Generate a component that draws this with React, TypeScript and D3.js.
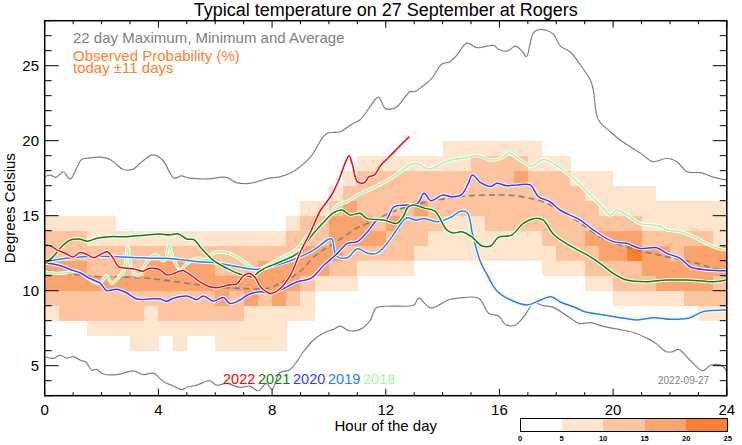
import React from "react";
import * as d3 from "d3";

type Pt = [number, number];

// ---------- axis / legend data ----------
const hourMajor = [0, 4, 8, 12, 16, 20, 24];
const hourMinor = d3.range(0, 25, 1);
const tempMajor = [5, 10, 15, 20, 25];
const tempMinor = d3.range(3, 29, 1);
const colorbarTicks = [0, 5, 10, 15, 20, 25];
const levelColors = ["#ffffff", "#fee6ce", "#fdc59f", "#fca46e", "#fd8030"];
const years = ["2022", "2021", "2020", "2019", "2018"];
const yearColors = ["#ff0000", "#0a820a", "#3a3aff", "#1e80ff", "#a8f5a8"];

// ---------- probability grid (half-hour columns, 1 degree rows) ----------
const lightLo = [8,8,8,7,7,7,6,6,7,6,7,7, 6,6,6,6,6,8,8,10,10,10,11,11, 11,11,12,12,12,12,12,12,12,12,12,11, 11,11,10,10,9,9,9,9,9,9,8,8];
const lightHi = [15,15,15,15,15,14,14,14,14,14,14,14, 14,14,14,14,14,15,16,16,17,18,19,19, 19,19,19,19,20,20,20,20,20,20,20,19, 19,18,18,18,17,17,17,16,16,16,16,16];
const medLo = [9,8,8,8,8,8,8,9,8,8,8,8, 8,8,9,9,9,9,10,11,11,11,12,12, 12,12,13,14,15,15,15,14,14,14,14,13, 12,12,11,11,10,10,10,10,10,9,9,9];
const medHi = [14,14,14,13,13,13,13,13,13,13,13,13, 13,13,13,13,13,14,15,15,16,17,18,18, 18,18,18,18,18,18,19,19,19,19,18,18, 18,17,16,15,15,15,14,14,14,14,14,13];
const l3Lo = [10,10,10,10,10,10,10,10,10,10,10,10, 9,10,9,10,9,10,11,11,12,13,13,13, 14,0,15,0,0,0,0,0,0,17,0,0, 0,0,13,12,12,13,11,10,10,10,10,11];
const l3Hi = [12,12,12,11,11,11,11,12,12,12,12,12, 11,11,11,12,12,12,13,13,15,16,15,14, 15,0,16,0,0,0,0,0,0,18,0,0, 0,0,14,14,14,14,13,13,12,13,13,13];
const l4Cells: Pt[] = [[41, 12]];

// ---------- series ----------
const maxTemp: Pt[] = [[0,17.6],[0.2,17.7],[0.4,17.55],[0.65,17.93],[0.9,17.45],[1.3,18.75],[1.6,18.85],[1.9,18.9],[2.3,18.75],[2.75,18.1],[3.1,18.1],[3.45,18.65],[3.8,19.05],[4.15,18.7],[4.55,17.5],[4.8,17.65],[5.1,17.5],[5.7,17.45],[6.4,17.55],[6.75,17.2],[7.2,17.15],[7.9,17.5],[8.3,17.6],[8.75,17.95],[9.35,18.9],[9.9,20.45],[10.4,20.6],[10.8,21.1],[11.1,21.4],[11.45,22.27],[11.74,22.9],[11.98,22.15],[12.16,22.1],[12.4,22.27],[12.86,23.27],[13.03,23.27],[13.27,23.6],[13.62,24.16],[13.97,25.1],[14.26,25.27],[14.5,25.7],[14.85,26.5],[15.2,26.2],[15.56,26.3],[15.8,26.35],[15.97,26.1],[16.27,25.97],[16.56,26.3],[16.8,25.96],[16.95,25.6],[17.2,27.2],[17.44,27.42],[17.68,27.33],[17.9,27.1],[18.15,26.3],[18.5,25.9],[18.85,25.05],[19.2,24.05],[19.3,23.4],[19.48,21.4],[19.9,20.6],[20.25,20.05],[20.6,19.6],[21.05,19.05],[21.4,18.6],[21.9,18.83],[22.25,18.6],[22.6,17.93],[23.08,17.87],[23.55,17.56],[24,17.38]];
const minTemp: Pt[] = [[0,5.6],[0.3,5.49],[0.54,5.71],[0.77,5.5],[1.0,5.6],[1.24,5.38],[1.47,5.2],[1.65,4.7],[1.83,4.75],[2.06,4.45],[2.53,4.4],[3.12,4.65],[3.47,4.4],[3.82,4.5],[4.17,3.95],[4.52,3.65],[4.82,3.4],[5.0,3.56],[5.35,3.7],[5.8,4.0],[6.05,3.7],[6.4,3.82],[6.87,3.56],[7.22,3.64],[7.51,3.33],[7.8,3.82],[8.0,3.42],[8.28,4.55],[8.6,4.7],[8.87,5.27],[9.1,5.93],[9.45,6.7],[9.8,7.16],[10.15,7.42],[10.4,7.64],[10.7,7.33],[11.1,7.42],[11.45,8.0],[11.66,8.85],[12.2,8.97],[13.0,9.05],[13.15,9.5],[13.6,8.85],[14.2,9.38],[14.56,9.5],[15.27,9.5],[15.62,8.5],[15.98,8.3],[16.2,7.76],[16.56,7.7],[16.9,8.38],[17.2,9.16],[17.56,9.0],[17.9,8.89],[18.5,8.16],[18.8,7.82],[19.2,7.87],[19.7,7.6],[20.2,7.42],[20.75,7.2],[21.2,6.82],[21.5,6.49],[21.87,5.93],[22.1,5.93],[22.3,6.09],[22.7,5.38],[23.15,4.67],[23.4,5.0],[23.65,5.09],[23.85,4.98],[24,4.6]];
const avgTemp: Pt[] = [[0,11.38],[1,11.1],[2,10.93],[3,10.9],[3.5,10.85],[4,10.75],[5,10.5],[5.5,10.35],[6,10.25],[7,10.15],[7.8,10.15],[8.4,10.6],[9,11.3],[9.5,12.3],[10,12.95],[10.5,13.55],[11,14.2],[11.5,14.6],[12.15,15.2],[12.5,15.45],[12.9,15.65],[13.5,15.95],[14,16.1],[14.75,16.3],[15.5,16.38],[16,16.38],[16.5,16.35],[17.1,16.15],[17.6,15.9],[18,15.5],[18.5,14.95],[19,14.3],[19.5,13.65],[20,13.2],[20.6,12.85],[21.2,12.55],[21.8,12.3],[22.3,12.1],[22.9,11.85],[23.5,11.5],[24,11.4]];
const y2022: Pt[] = [[0,13.05],[0.2,13.0],[0.45,12.7],[0.77,12.45],[1.0,12.25],[1.24,12.55],[1.45,12.45],[1.72,12.2],[1.95,12.4],[2.2,12.6],[2.4,12.2],[2.6,11.6],[2.9,11.5],[3.15,11.45],[3.45,11.3],[3.7,11.5],[4.05,11.4],[4.3,11.05],[4.55,11.15],[4.85,11.35],[5.2,10.95],[5.5,10.55],[5.75,10.3],[6.05,10.2],[6.45,10.38],[6.75,10.45],[7.0,11.0],[7.2,11.15],[7.4,10.9],[7.6,10.25],[7.95,9.82],[8.3,10.16],[8.65,11.05],[9.0,12.6],[9.36,13.93],[9.71,15.38],[10.06,16.27],[10.35,17.38],[10.59,18.6],[10.71,19.0],[10.83,18.38],[11.0,17.27],[11.24,17.2],[11.41,17.6],[11.59,17.7],[11.83,18.38],[12.0,18.7],[12.3,19.27],[12.53,19.71],[12.83,20.27]];
const y2021: Pt[] = [[0,11.8],[0.3,12.27],[0.6,12.95],[0.9,13.38],[1.2,13.45],[1.5,13.3],[1.85,13.5],[2.3,13.6],[2.9,13.6],[3.5,13.7],[4.05,13.78],[4.4,13.71],[4.68,13.8],[5.0,13.45],[5.25,13.4],[5.5,12.85],[5.95,12.0],[6.4,11.5],[6.87,11.1],[7.1,11.0],[7.32,10.93],[7.5,11.2],[7.73,11.49],[8.3,11.93],[8.89,12.49],[9.36,13.6],[9.83,14.6],[10.18,15.22],[10.47,15.38],[10.74,15.05],[11.1,15.16],[11.33,14.82],[11.92,14.71],[12.39,14.49],[12.6,14.9],[12.8,15.6],[12.99,15.71],[13.38,15.49],[13.73,15.3],[14.15,14.05],[14.38,13.85],[14.67,13.93],[15.02,13.6],[15.37,13.0],[15.7,13.0],[15.96,13.56],[16.43,13.71],[16.84,14.49],[17.25,14.82],[17.54,14.71],[17.91,13.75],[18.48,13.0],[19.07,12.4],[19.54,11.82],[20.0,11.16],[20.48,10.71],[21.18,10.6],[21.89,10.71],[22.59,10.71],[23.53,10.6],[24,10.71]];
const y2020: Pt[] = [[0,11.85],[0.5,11.7],[0.92,11.4],[1.24,11.2],[1.55,10.85],[1.95,10.5],[2.18,10.0],[2.53,10.1],[2.89,9.85],[3.24,9.45],[3.71,9.45],[4.07,9.45],[4.29,9.3],[4.53,9.5],[5.0,9.65],[5.35,9.4],[5.58,9.65],[5.93,9.3],[6.29,9.55],[6.52,9.15],[6.87,9.38],[7.14,9.71],[7.6,9.93],[7.95,9.82],[8.3,10.05],[8.89,10.6],[9.36,10.82],[9.83,11.71],[10.3,12.49],[10.65,13.16],[11.0,13.27],[11.36,13.93],[11.71,14.71],[12.0,14.71],[12.3,15.6],[12.77,15.71],[13.12,15.82],[13.35,16.49],[13.59,16.0],[14.0,16.38],[14.3,16.27],[14.65,16.38],[14.88,17.05],[15.05,17.71],[15.34,17.2],[15.7,16.95],[15.9,17.16],[16.26,17.0],[16.65,17.05],[17.08,17.05],[17.37,16.27],[17.78,15.93],[18.13,15.38],[18.84,14.71],[19.3,14.05],[20.0,13.27],[20.48,13.16],[20.95,12.82],[21.53,12.87],[21.89,12.49],[22.36,12.16],[22.71,11.6],[23.3,11.38],[24,11.33]];
const y2019: Pt[] = [[0,11.93],[0.77,12.16],[1.36,12.27],[1.95,12.3],[2.53,12.27],[3.12,12.22],[3.71,12.16],[4.29,12.16],[4.88,12.05],[5.46,11.93],[6.05,11.85],[6.64,11.65],[7.22,11.45],[7.6,11.45],[7.95,11.6],[8.54,11.93],[9.0,12.27],[9.36,12.6],[9.71,13.05],[9.95,13.4],[10.1,13.45],[10.27,12.3],[10.65,12.2],[11.0,12.8],[11.36,12.5],[11.68,12.49],[12.03,13.1],[12.38,14.05],[12.73,14.85],[13.08,14.7],[13.35,14.82],[13.81,14.6],[14.29,14.9],[14.64,15.3],[14.87,15.2],[15.05,13.8],[15.32,12.0],[15.57,11.05],[15.93,9.95],[16.4,9.38],[16.98,9.05],[17.45,9.38],[17.8,9.6],[18.2,9.2],[18.6,8.93],[19.0,8.6],[19.6,8.4],[20.4,8.16],[20.85,8.05],[21.45,8.2],[22.04,8.09],[22.7,8.2],[23.15,8.6],[24,8.71]];
const y2018: Pt[] = [[0,11.27],[0.42,11.16],[0.77,11.2],[1.13,11.3],[1.48,10.9],[1.71,10.6],[1.95,10.5],[2.18,11.0],[2.36,10.5],[2.65,11.0],[2.8,11.4],[2.92,12.9],[3.05,11.5],[3.3,11.0],[3.59,11.9],[3.9,12.4],[4.15,12.0],[4.25,12.1],[4.37,13.05],[4.5,12.3],[4.76,11.4],[5.0,11.8],[5.35,12.16],[5.7,12.1],[5.93,12.49],[6.17,12.6],[6.64,12.38],[7.0,11.95],[7.3,11.5],[7.45,11.38],[7.73,11.6],[8.3,12.16],[8.89,12.82],[9.36,13.93],[9.83,14.6],[10.3,15.71],[10.65,15.93],[11.0,16.38],[11.4,16.71],[12.0,17.3],[12.5,17.9],[12.9,18.45],[13.15,18.45],[13.5,18.1],[13.9,18.4],[14.29,18.71],[14.76,18.85],[15.23,19.0],[15.7,18.71],[16.05,18.82],[16.35,19.18],[16.65,18.82],[16.9,18.5],[17.12,18.3],[17.55,18.75],[18.0,18.35],[18.6,17.49],[19.19,16.38],[19.66,15.49],[19.89,15.05],[20.12,15.38],[20.48,15.05],[20.95,14.49],[21.65,14.31],[21.89,14.05],[22.36,13.93],[22.83,13.6],[23.53,12.93],[24,12.71]];
const yearSeries = [y2022, y2021, y2020, y2019, y2018];

// ---------- layout ----------
const WIDTH = 742;
const HEIGHT = 445;
const FONT = "'Liberation Sans', Arial, Helvetica, sans-serif";
const x = d3.scaleLinear().domain([0, 24]).range([44.7, 726.8]);
const y = d3.scaleLinear().domain([3, 28]).range([395.7, 20.7]);
const cbx = d3.scaleLinear().domain([0, 25]).range([520, 727.7]);

function cellLevel(c: number, t: number): number {
  if (l4Cells.some(([cc, tt]) => cc === c && tt === t)) return 4;
  if (l3Lo[c] > 0 && t >= l3Lo[c] && t < l3Hi[c]) return 3;
  if (t >= medLo[c] && t < medHi[c]) return 2;
  if (t >= lightLo[c] && t < lightHi[c]) return 1;
  return 0;
}

export default function App() {
  const line = d3
    .line<Pt>()
    .x((d) => x(d[0]))
    .y((d) => y(d[1]))
    .curve(d3.curveCatmullRom.alpha(0.5));

  const cells: { c: number; t: number; lv: number }[] = [];
  for (let c = 0; c < 48; c++) {
    for (let t = 4; t < 22; t++) {
      const lv = cellLevel(c, t);
      if (lv > 0) cells.push({ c, t, lv });
    }
  }
  const [xl, xr] = x.range();
  const [yb, yt] = y.range();
  const plotH = yb - yt;
  const plotW = xr - xl;

  return (
    <svg
      width={WIDTH}
      height={HEIGHT}
      style={{ position: "absolute", left: 0, top: 0, background: "#fff" }}
      fontFamily={FONT}
    >
      <defs>
        <clipPath id="plotclip">
          <rect x={xl} y={yt} width={plotW} height={plotH} />
        </clipPath>
      </defs>
      <rect x={0} y={0} width={WIDTH} height={HEIGHT} fill="#fff" />

      {/* probability grid */}
      <g shapeRendering="crispEdges">
        {cells.map(({ c, t, lv }) => (
          <rect
            key={`${c}-${t}`}
            x={x(c * 0.5)}
            y={y(t + 1)}
            width={x((c + 1) * 0.5) - x(c * 0.5) + 0.3}
            height={y(t) - y(t + 1) + 0.3}
            fill={levelColors[lv]}
          />
        ))}
      </g>

      <g clipPath="url(#plotclip)" fill="none">
        <path d={line(maxTemp) || ""} stroke="#808080" strokeWidth={1.2} />
        <path d={line(minTemp) || ""} stroke="#808080" strokeWidth={1.2} />
        <path d={line(avgTemp) || ""} stroke="#808080" strokeWidth={1.6} strokeDasharray="6,4" />
        {yearSeries
          .map((s, i) => ({ s, i }))
          .reverse()
          .map(({ s, i }) => (
            <g key={years[i]}>
              <path d={line(s) || ""} stroke="#ffffff" strokeWidth={3.4} strokeLinejoin="round" />
              <path d={line(s) || ""} stroke={yearColors[i]} strokeWidth={1.5} strokeLinejoin="round" />
            </g>
          ))}
      </g>

      {/* frame */}
      <rect x={xl} y={yt} width={plotW} height={plotH} fill="none" stroke="#000" strokeWidth={1.5} />

      {/* x ticks (bottom and top) */}
      {hourMinor.map((h) => {
        const major = hourMajor.includes(h);
        const len = major ? 7 : 3.5;
        return (
          <g key={`hx${h}`} stroke="#000" strokeWidth={1}>
            <line x1={x(h)} x2={x(h)} y1={yb} y2={yb - len} />
            <line x1={x(h)} x2={x(h)} y1={yt} y2={yt + len} />
          </g>
        );
      })}
      {/* y ticks (left and right) */}
      {tempMinor.map((t) => {
        const major = tempMajor.includes(t);
        const len = major ? 14 : 7;
        return (
          <g key={`ty${t}`} stroke="#000" strokeWidth={1}>
            <line x1={xl} x2={xl + len} y1={y(t)} y2={y(t)} />
            <line x1={xr} x2={xr - len} y1={y(t)} y2={y(t)} />
          </g>
        );
      })}
      {hourMajor.map((h) => (
        <text key={`lx${h}`} x={x(h)} y={415} fontSize={15} textAnchor="middle" fill="#000">
          {h}
        </text>
      ))}
      {tempMajor.map((t) => (
        <text key={`ly${t}`} x={39} y={y(t) + 5} fontSize={15} textAnchor="end" fill="#000">
          {t}
        </text>
      ))}

      {/* titles */}
      <text x={(xl + xr) / 2} y={16} fontSize={18} textAnchor="middle" fill="#000">
        Typical temperature on 27 September at Rogers
      </text>
      <text x={(xl + xr) / 2} y={431} fontSize={15} textAnchor="middle" fill="#000">
        Hour of the day
      </text>
      <text
        transform={`translate(15,${(yt + yb) / 2}) rotate(-90)`}
        fontSize={15}
        textAnchor="middle"
        fill="#000"
      >
        Degrees Celsius
      </text>

      {/* legend texts */}
      <text x={73} y={42.5} fontSize={15} fill="#808080">
        22 day Maximum, Minimum and Average
      </text>
      <text x={73} y={60.5} fontSize={15} fill="#ff7f2a">
        Observed Probability (%)
      </text>
      <text x={73} y={72.5} fontSize={15} fill="#ff7f2a">
        today ±11 days
      </text>

      {years.map((yr, i) => (
        <text key={yr} x={223 + i * 35} y={384} fontSize={14.5} fill={yearColors[i]}>
          {yr}
        </text>
      ))}
      <text x={658} y={383.5} fontSize={10} fill="#808080">
        2022-09-27
      </text>

      {/* colour bar */}
      <g shapeRendering="crispEdges">
        {levelColors.map((col, i) => (
          <rect
            key={`cb${i}`}
            x={cbx(i * 5)}
            y={418}
            width={cbx((i + 1) * 5) - cbx(i * 5)}
            height={13}
            fill={col}
          />
        ))}
        <rect x={cbx(0)} y={418} width={cbx(25) - cbx(0)} height={13} fill="none" stroke="#000" strokeWidth={1} />
      </g>
      {colorbarTicks.map((v) => (
        <text key={`cbt${v}`} x={cbx(v)} y={441} fontSize={7.5} fontWeight="bold" textAnchor="middle" fill="#000">
          {v}
        </text>
      ))}
    </svg>
  );
}
